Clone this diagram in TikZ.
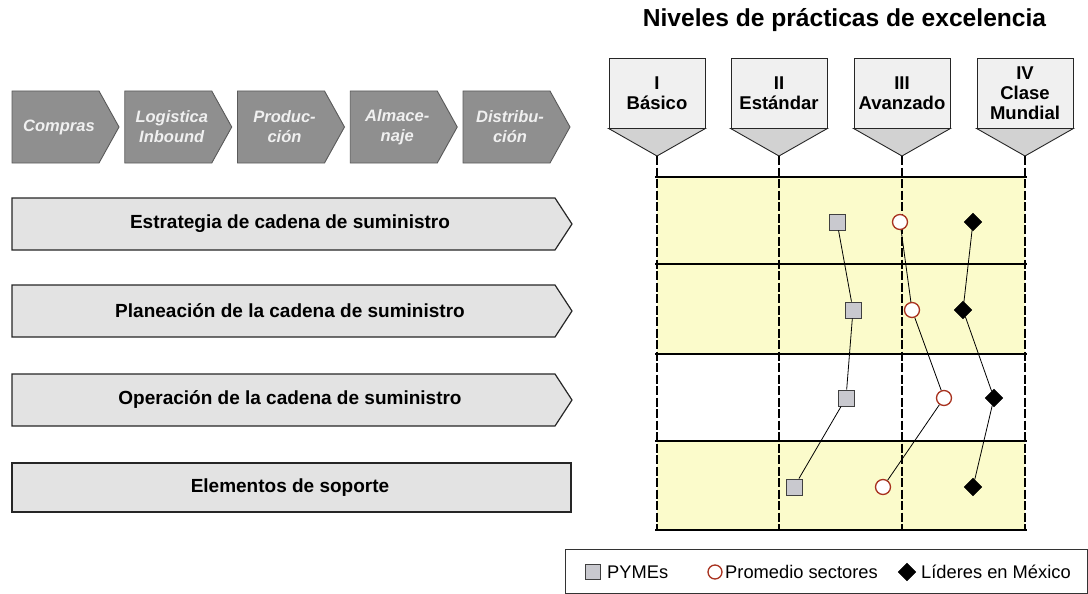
\documentclass[tikz,border=0pt]{standalone}
\usepackage{fontspec}
\setmainfont{Liberation Sans}
\usetikzlibrary{shapes.geometric}
\definecolor{chevfill}{HTML}{8F8F8F}
\definecolor{chevline}{HTML}{5A5A5A}
\definecolor{rowfill}{HTML}{E3E3E3}
\definecolor{gridyellow}{HTML}{FBFBCB}
\definecolor{hdrtop}{HTML}{F0F0F0}
\definecolor{hdrtri}{HTML}{D2D2D2}
\definecolor{sqfill}{HTML}{C9C9CF}
\definecolor{circred}{HTML}{A8321F}
\tikzset{
  topchev/.style={fill=chevfill,draw=chevline,line width=0.9pt,line join=miter},
  toptext/.style={text=white!94!black,font=\fontsize{16.5}{20}\selectfont\bfseries\itshape,align=center,inner sep=0pt},
  rowbox/.style={fill=rowfill,draw=black!85,line width=1.2pt},
  rowtext/.style={font=\fontsize{19}{22}\selectfont\bfseries,inner sep=0pt},
  hdrbox/.style={rectangle,fill=hdrtop,draw=black!85,line width=0.9pt,minimum width=96pt,minimum height=70pt,inner sep=0pt,align=center,font=\fontsize{18.5}{20}\selectfont\bfseries},
  hdrtri/.style={fill=hdrtri,draw=black!85,line width=0.9pt},
  vline/.style={line width=2.4pt,dash pattern=on 9pt off 2.5pt},
  hline/.style={line width=1.4pt},
  sqm/.style={rectangle,draw=black!75,fill=sqfill,line width=0.9pt,minimum size=16pt,inner sep=0pt},
  circm/.style={circle,draw=circred,fill=white,line width=1.3pt,minimum size=15pt,inner sep=0pt},
  diam/.style={diamond,fill=black,draw=black,minimum size=18pt,inner sep=0pt},
  link/.style={line width=0.8pt},
  legtext/.style={font=\fontsize{18.3}{20}\selectfont,anchor=base west,inner sep=0pt}
}
\begin{document}
\begin{tikzpicture}[x=1pt,y=-1pt]
\useasboundingbox (0,0) rectangle (1088,594);

% title
\node[font=\fontsize{24.6}{28}\selectfont\bfseries,anchor=base,inner sep=0pt] (title) at (844.5,27) {Niveles de prácticas de excelencia};

% top process chevrons
\foreach \x/\t [count=\i] in {12/Compras, 124.75/{Logistica\\Inbound}, 237.5/{Produc-\\ción}, 350.25/{Almace-\\naje}, 463/{Distribu-\\ción}} {
  \draw[topchev] (\x,91) -- ++(87,0) -- ++(20,36) -- ++(-20,36) -- ++(-87,0) -- cycle;
  \node[toptext] (p\i) at (\x+47,127) {\t};
}

% process rows
\foreach \y/\t [count=\i] in {198/Estrategia de cadena de suministro, 285/Planeación de la cadena de suministro, 374/Operación de la cadena de suministro} {
  \draw[rowbox] (12,\y) -- (555,\y) -- (572,\y+26) -- (555,\y+52) -- (12,\y+52) -- cycle;
  \node[rowtext] (r\i) at (290,\y+26) {\t};
}
\draw[rowbox] (12,463) rectangle (571,512);
\node[rowtext] (r4) at (290,487.5) {Elementos de soporte};

% grid background
\fill[gridyellow] (657,177) rectangle (1025,354);
\fill[gridyellow] (657,441) rectangle (1025,530);
\foreach \y in {177,264,354,441,530} \draw[hline] (655,\y) -- (1027,\y);

% level headers
\foreach \c/\t [count=\i] in {657/{I\\Básico}, 779/{II\\Estándar}, 902/{III\\Avanzado}, 1025/{IV\\Clase\\Mundial}} {
  \node[hdrbox] (h\i) at (\c,93) {\t};
  \coordinate (tip\i) at (\c,156);
  \coordinate (bot\i) at (\c,530);
  \draw[hdrtri] (h\i.south west) -- (h\i.south east) -- (tip\i) -- cycle;
  \draw[vline] (tip\i) -- (bot\i);
}

% data markers
\node[sqm] (s1) at (837,222) {};
\node[sqm] (s2) at (853,310) {};
\node[sqm] (s3) at (846,398) {};
\node[sqm] (s4) at (794,487) {};
\node[circm] (c1) at (900,222) {};
\node[circm] (c2) at (912,310) {};
\node[circm] (c3) at (944,398) {};
\node[circm] (c4) at (883,487) {};
\node[diam] (d1) at (973,222) {};
\node[diam] (d2) at (963,310) {};
\node[diam] (d3) at (994,398) {};
\node[diam] (d4) at (973,487) {};
\draw[link] (s1) -- (s2) -- (s3) -- (s4);
\draw[link] (c1) -- (c2) -- (c3) -- (c4);
\draw[link] (d1) -- (d2) -- (d3) -- (d4);

% legend
\draw[line width=1pt,draw=black!80] (565,549) rectangle (1087,593);
\node[sqm,minimum size=15pt] (ls) at (593,572) {};
\node[legtext] (lt1) at (607,578.5) {PYMEs};
\node[circm,minimum size=14pt] (lc) at (715,572) {};
\node[legtext] (lt2) at (725,578.5) {Promedio sectores};
\node[diam] (ld) at (907,572) {};
\node[legtext] (lt3) at (921,578.5) {Líderes en México};
\end{tikzpicture}
\end{document}
